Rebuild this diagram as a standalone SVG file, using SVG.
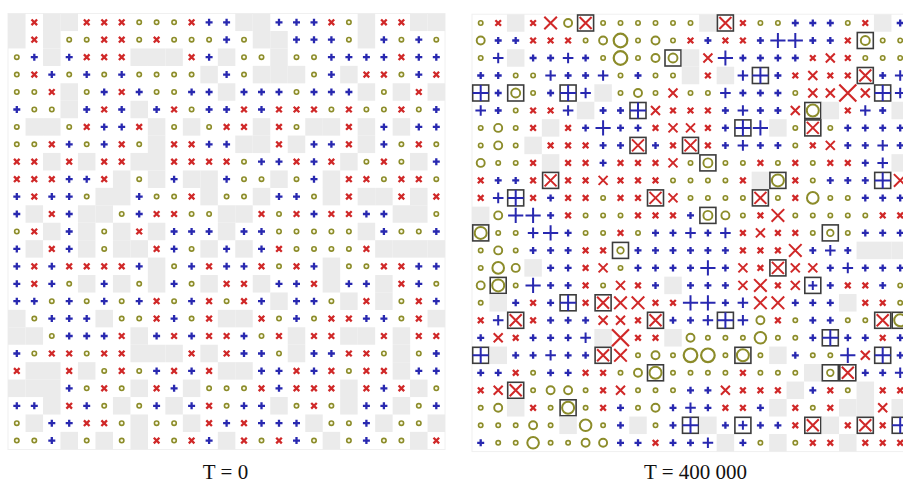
<svg xmlns="http://www.w3.org/2000/svg" width="903" height="484" viewBox="0 0 903 484">
<style>
.r{stroke:#d02828;fill:none}
.b{stroke:#2828b0;fill:none}
.ol{stroke:#8c8c2a}
.bx{stroke:#3c3c3c;fill:none;stroke-width:1.6}
text{font-family:"Liberation Serif","Times New Roman",serif;font-size:21px;fill:#111}
</style>
<defs>
<rect id="g" x="-8.75" y="-8.75" width="17.5" height="17.5" fill="#ebebeb"/>
<path id="x" class="r" stroke-width="2.3" d="M-2.8-2.8L2.8 2.8M2.8-2.8L-2.8 2.8"/>
<path id="x2" class="r" stroke-width="2" d="M-4.5-4.5L4.5 4.5M4.5-4.5L-4.5 4.5"/>
<path id="x3" class="r" stroke-width="2" d="M-6.3-6.3L6.3 6.3M6.3-6.3L-6.3 6.3"/>
<path id="x4" class="r" stroke-width="2.2" d="M-8.5-8.5L8.5 8.5M8.5-8.5L-8.5 8.5"/>
<path id="p" class="b" stroke-width="2.3" d="M-3.5 0H3.5M0-3.5V3.5"/>
<path id="p2" class="b" stroke-width="2" d="M-5.3 0H5.3M0-5.3V5.3"/>
<path id="p3" class="b" stroke-width="2" d="M-7.6 0H7.6M0-7.6V7.6"/>
<circle id="o" class="ol" r="2.2" stroke-width="1.6" fill="#fafae4"/>
<circle id="o2" class="ol" r="4" stroke-width="1.9" fill="none"/>
<circle id="o3" class="ol" r="5.8" stroke-width="2" fill="none"/>
<circle id="o4" class="ol" r="6.8" stroke-width="2.2" fill="none"/>
<rect id="bq" class="bx" x="-8" y="-8" width="16" height="16"/>
<g id="BX"><use href="#bq"/><path class="r" stroke-width="2" d="M-6-6L6 6M6-6L-6 6"/></g>
<g id="BP"><use href="#bq"/><path class="b" stroke-width="2" d="M-8 0H8M0-8V8"/></g>
<g id="BPs"><use href="#bq"/><path class="b" stroke-width="2" d="M-4.5 0H4.5M0-4.5V4.5"/></g>
<g id="BO"><use href="#bq"/><circle class="ol" r="6" stroke-width="2" fill="none"/></g>
<g id="BOm"><use href="#bq"/><circle class="ol" r="4.5" stroke-width="1.9" fill="none"/></g>
<g id="BOs"><use href="#bq"/><circle class="ol" r="3.3" stroke-width="1.7" fill="none"/></g>
</defs>
<rect width="903" height="484" fill="#fff"/>
<rect x="8" y="13.5" width="437" height="436" fill="none" stroke="#f0f0f0"/>
<rect x="472" y="14.2" width="440" height="437.4" fill="none" stroke="#f0f0f0"/>
<g id="left-grid">
<g transform="translate(0,22.3)"><use href="#g" x="16.8"/><use href="#x" x="34.3"/><use href="#g" x="51.8"/><use href="#g" x="69.2"/><use href="#x" x="86.7"/><use href="#x" x="104.2"/><use href="#x" x="121.7"/><use href="#o" x="139.2"/><use href="#o" x="156.6"/><use href="#o" x="174.1"/><use href="#x" x="191.6"/><use href="#p" x="209.1"/><use href="#p" x="226.6"/><use href="#g" x="244"/><use href="#g" x="261.5"/><use href="#p" x="279"/><use href="#p" x="296.5"/><use href="#p" x="314"/><use href="#x" x="331.4"/><use href="#o" x="348.9"/><use href="#g" x="366.4"/><use href="#x" x="383.9"/><use href="#x" x="401.4"/><use href="#g" x="418.8"/><use href="#g" x="436.3"/></g>
<g transform="translate(0,39.7)"><use href="#g" x="16.8"/><use href="#x" x="34.3"/><use href="#g" x="51.8"/><use href="#o" x="69.2"/><use href="#o" x="86.7"/><use href="#x" x="104.2"/><use href="#x" x="121.7"/><use href="#o" x="139.2"/><use href="#x" x="156.6"/><use href="#o" x="174.1"/><use href="#o" x="191.6"/><use href="#o" x="209.1"/><use href="#p" x="226.6"/><use href="#o" x="244"/><use href="#g" x="261.5"/><use href="#g" x="279"/><use href="#p" x="296.5"/><use href="#p" x="314"/><use href="#p" x="331.4"/><use href="#o" x="348.9"/><use href="#g" x="366.4"/><use href="#p" x="383.9"/><use href="#o" x="401.4"/><use href="#p" x="418.8"/><use href="#o" x="436.3"/></g>
<g transform="translate(0,57.2)"><use href="#o" x="16.8"/><use href="#p" x="34.3"/><use href="#g" x="51.8"/><use href="#p" x="69.2"/><use href="#x" x="86.7"/><use href="#x" x="104.2"/><use href="#x" x="121.7"/><use href="#g" x="139.2"/><use href="#g" x="156.6"/><use href="#g" x="174.1"/><use href="#x" x="191.6"/><use href="#p" x="209.1"/><use href="#g" x="226.6"/><use href="#o" x="244"/><use href="#o" x="261.5"/><use href="#g" x="279"/><use href="#o" x="296.5"/><use href="#o" x="314"/><use href="#p" x="331.4"/><use href="#p" x="348.9"/><use href="#p" x="366.4"/><use href="#p" x="383.9"/><use href="#x" x="401.4"/><use href="#p" x="418.8"/><use href="#p" x="436.3"/></g>
<g transform="translate(0,74.6)"><use href="#o" x="16.8"/><use href="#x" x="34.3"/><use href="#p" x="51.8"/><use href="#o" x="69.2"/><use href="#p" x="86.7"/><use href="#o" x="104.2"/><use href="#p" x="121.7"/><use href="#o" x="139.2"/><use href="#o" x="156.6"/><use href="#o" x="174.1"/><use href="#o" x="191.6"/><use href="#g" x="209.1"/><use href="#p" x="226.6"/><use href="#o" x="244"/><use href="#g" x="261.5"/><use href="#g" x="279"/><use href="#g" x="296.5"/><use href="#o" x="314"/><use href="#p" x="331.4"/><use href="#g" x="348.9"/><use href="#x" x="366.4"/><use href="#x" x="383.9"/><use href="#o" x="401.4"/><use href="#p" x="418.8"/><use href="#x" x="436.3"/></g>
<g transform="translate(0,92)"><use href="#o" x="16.8"/><use href="#o" x="34.3"/><use href="#x" x="51.8"/><use href="#g" x="69.2"/><use href="#o" x="86.7"/><use href="#p" x="104.2"/><use href="#x" x="121.7"/><use href="#p" x="139.2"/><use href="#o" x="156.6"/><use href="#o" x="174.1"/><use href="#p" x="191.6"/><use href="#p" x="209.1"/><use href="#g" x="226.6"/><use href="#p" x="244"/><use href="#p" x="261.5"/><use href="#p" x="279"/><use href="#o" x="296.5"/><use href="#p" x="314"/><use href="#p" x="331.4"/><use href="#p" x="348.9"/><use href="#g" x="366.4"/><use href="#o" x="383.9"/><use href="#g" x="401.4"/><use href="#x" x="418.8"/><use href="#g" x="436.3"/></g>
<g transform="translate(0,109.5)"><use href="#p" x="16.8"/><use href="#o" x="34.3"/><use href="#o" x="51.8"/><use href="#g" x="69.2"/><use href="#p" x="86.7"/><use href="#x" x="104.2"/><use href="#p" x="121.7"/><use href="#g" x="139.2"/><use href="#p" x="156.6"/><use href="#x" x="174.1"/><use href="#o" x="191.6"/><use href="#p" x="209.1"/><use href="#p" x="226.6"/><use href="#x" x="244"/><use href="#p" x="261.5"/><use href="#x" x="279"/><use href="#x" x="296.5"/><use href="#x" x="314"/><use href="#o" x="331.4"/><use href="#x" x="348.9"/><use href="#o" x="366.4"/><use href="#o" x="383.9"/><use href="#x" x="401.4"/><use href="#o" x="418.8"/><use href="#p" x="436.3"/></g>
<g transform="translate(0,126.9)"><use href="#o" x="16.8"/><use href="#g" x="34.3"/><use href="#g" x="51.8"/><use href="#o" x="69.2"/><use href="#x" x="86.7"/><use href="#p" x="104.2"/><use href="#p" x="121.7"/><use href="#x" x="139.2"/><use href="#g" x="156.6"/><use href="#o" x="174.1"/><use href="#g" x="191.6"/><use href="#o" x="209.1"/><use href="#x" x="226.6"/><use href="#x" x="244"/><use href="#g" x="261.5"/><use href="#x" x="279"/><use href="#o" x="296.5"/><use href="#g" x="314"/><use href="#g" x="331.4"/><use href="#x" x="348.9"/><use href="#g" x="366.4"/><use href="#p" x="383.9"/><use href="#g" x="401.4"/><use href="#p" x="418.8"/><use href="#p" x="436.3"/></g>
<g transform="translate(0,144.3)"><use href="#o" x="16.8"/><use href="#o" x="34.3"/><use href="#x" x="51.8"/><use href="#p" x="69.2"/><use href="#o" x="86.7"/><use href="#p" x="104.2"/><use href="#x" x="121.7"/><use href="#o" x="139.2"/><use href="#g" x="156.6"/><use href="#x" x="174.1"/><use href="#x" x="191.6"/><use href="#p" x="209.1"/><use href="#p" x="226.6"/><use href="#g" x="244"/><use href="#g" x="261.5"/><use href="#x" x="279"/><use href="#g" x="296.5"/><use href="#p" x="314"/><use href="#p" x="331.4"/><use href="#x" x="348.9"/><use href="#g" x="366.4"/><use href="#p" x="383.9"/><use href="#o" x="401.4"/><use href="#x" x="418.8"/><use href="#o" x="436.3"/></g>
<g transform="translate(0,161.7)"><use href="#x" x="16.8"/><use href="#x" x="34.3"/><use href="#g" x="51.8"/><use href="#x" x="69.2"/><use href="#g" x="86.7"/><use href="#x" x="104.2"/><use href="#x" x="121.7"/><use href="#g" x="139.2"/><use href="#g" x="156.6"/><use href="#x" x="174.1"/><use href="#x" x="191.6"/><use href="#x" x="209.1"/><use href="#x" x="226.6"/><use href="#o" x="244"/><use href="#p" x="261.5"/><use href="#p" x="279"/><use href="#x" x="296.5"/><use href="#p" x="314"/><use href="#x" x="331.4"/><use href="#g" x="348.9"/><use href="#o" x="366.4"/><use href="#x" x="383.9"/><use href="#o" x="401.4"/><use href="#g" x="418.8"/><use href="#p" x="436.3"/></g>
<g transform="translate(0,179.2)"><use href="#x" x="16.8"/><use href="#x" x="34.3"/><use href="#x" x="51.8"/><use href="#p" x="69.2"/><use href="#p" x="86.7"/><use href="#x" x="104.2"/><use href="#g" x="121.7"/><use href="#o" x="139.2"/><use href="#g" x="156.6"/><use href="#p" x="174.1"/><use href="#g" x="191.6"/><use href="#g" x="209.1"/><use href="#p" x="226.6"/><use href="#o" x="244"/><use href="#o" x="261.5"/><use href="#g" x="279"/><use href="#o" x="296.5"/><use href="#p" x="314"/><use href="#g" x="331.4"/><use href="#x" x="348.9"/><use href="#x" x="366.4"/><use href="#o" x="383.9"/><use href="#x" x="401.4"/><use href="#x" x="418.8"/><use href="#o" x="436.3"/></g>
<g transform="translate(0,196.6)"><use href="#p" x="16.8"/><use href="#x" x="34.3"/><use href="#p" x="51.8"/><use href="#p" x="69.2"/><use href="#o" x="86.7"/><use href="#g" x="104.2"/><use href="#g" x="121.7"/><use href="#p" x="139.2"/><use href="#o" x="156.6"/><use href="#o" x="174.1"/><use href="#x" x="191.6"/><use href="#g" x="209.1"/><use href="#o" x="226.6"/><use href="#o" x="244"/><use href="#g" x="261.5"/><use href="#p" x="279"/><use href="#p" x="296.5"/><use href="#o" x="314"/><use href="#g" x="331.4"/><use href="#x" x="348.9"/><use href="#g" x="366.4"/><use href="#g" x="383.9"/><use href="#x" x="401.4"/><use href="#g" x="418.8"/><use href="#x" x="436.3"/></g>
<g transform="translate(0,214)"><use href="#p" x="16.8"/><use href="#g" x="34.3"/><use href="#x" x="51.8"/><use href="#p" x="69.2"/><use href="#g" x="86.7"/><use href="#g" x="104.2"/><use href="#o" x="121.7"/><use href="#p" x="139.2"/><use href="#x" x="156.6"/><use href="#x" x="174.1"/><use href="#o" x="191.6"/><use href="#o" x="209.1"/><use href="#g" x="226.6"/><use href="#g" x="244"/><use href="#x" x="261.5"/><use href="#o" x="279"/><use href="#x" x="296.5"/><use href="#p" x="314"/><use href="#x" x="331.4"/><use href="#x" x="348.9"/><use href="#p" x="366.4"/><use href="#p" x="383.9"/><use href="#g" x="401.4"/><use href="#g" x="418.8"/><use href="#o" x="436.3"/></g>
<g transform="translate(0,231.5)"><use href="#o" x="16.8"/><use href="#x" x="34.3"/><use href="#g" x="51.8"/><use href="#p" x="69.2"/><use href="#g" x="86.7"/><use href="#o" x="104.2"/><use href="#g" x="121.7"/><use href="#x" x="139.2"/><use href="#g" x="156.6"/><use href="#p" x="174.1"/><use href="#p" x="191.6"/><use href="#p" x="209.1"/><use href="#g" x="226.6"/><use href="#p" x="244"/><use href="#p" x="261.5"/><use href="#o" x="279"/><use href="#o" x="296.5"/><use href="#o" x="314"/><use href="#o" x="331.4"/><use href="#o" x="348.9"/><use href="#g" x="366.4"/><use href="#p" x="383.9"/><use href="#o" x="401.4"/><use href="#o" x="418.8"/><use href="#p" x="436.3"/></g>
<g transform="translate(0,248.9)"><use href="#p" x="16.8"/><use href="#g" x="34.3"/><use href="#x" x="51.8"/><use href="#p" x="69.2"/><use href="#g" x="86.7"/><use href="#o" x="104.2"/><use href="#g" x="121.7"/><use href="#g" x="139.2"/><use href="#x" x="156.6"/><use href="#p" x="174.1"/><use href="#o" x="191.6"/><use href="#g" x="209.1"/><use href="#p" x="226.6"/><use href="#g" x="244"/><use href="#p" x="261.5"/><use href="#x" x="279"/><use href="#o" x="296.5"/><use href="#o" x="314"/><use href="#o" x="331.4"/><use href="#o" x="348.9"/><use href="#x" x="366.4"/><use href="#g" x="383.9"/><use href="#g" x="401.4"/><use href="#g" x="418.8"/><use href="#g" x="436.3"/></g>
<g transform="translate(0,266.3)"><use href="#p" x="16.8"/><use href="#x" x="34.3"/><use href="#p" x="51.8"/><use href="#x" x="69.2"/><use href="#x" x="86.7"/><use href="#x" x="104.2"/><use href="#x" x="121.7"/><use href="#p" x="139.2"/><use href="#g" x="156.6"/><use href="#o" x="174.1"/><use href="#p" x="191.6"/><use href="#x" x="209.1"/><use href="#p" x="226.6"/><use href="#p" x="244"/><use href="#x" x="261.5"/><use href="#o" x="279"/><use href="#x" x="296.5"/><use href="#p" x="314"/><use href="#g" x="331.4"/><use href="#o" x="348.9"/><use href="#o" x="366.4"/><use href="#x" x="383.9"/><use href="#x" x="401.4"/><use href="#p" x="418.8"/><use href="#p" x="436.3"/></g>
<g transform="translate(0,283.8)"><use href="#p" x="16.8"/><use href="#x" x="34.3"/><use href="#p" x="51.8"/><use href="#o" x="69.2"/><use href="#g" x="86.7"/><use href="#p" x="104.2"/><use href="#g" x="121.7"/><use href="#o" x="139.2"/><use href="#g" x="156.6"/><use href="#p" x="174.1"/><use href="#o" x="191.6"/><use href="#g" x="209.1"/><use href="#x" x="226.6"/><use href="#x" x="244"/><use href="#g" x="261.5"/><use href="#p" x="279"/><use href="#p" x="296.5"/><use href="#x" x="314"/><use href="#g" x="331.4"/><use href="#p" x="348.9"/><use href="#p" x="366.4"/><use href="#g" x="383.9"/><use href="#x" x="401.4"/><use href="#p" x="418.8"/><use href="#o" x="436.3"/></g>
<g transform="translate(0,301.2)"><use href="#p" x="16.8"/><use href="#p" x="34.3"/><use href="#o" x="51.8"/><use href="#p" x="69.2"/><use href="#o" x="86.7"/><use href="#p" x="104.2"/><use href="#o" x="121.7"/><use href="#p" x="139.2"/><use href="#x" x="156.6"/><use href="#o" x="174.1"/><use href="#p" x="191.6"/><use href="#x" x="209.1"/><use href="#o" x="226.6"/><use href="#x" x="244"/><use href="#p" x="261.5"/><use href="#g" x="279"/><use href="#p" x="296.5"/><use href="#p" x="314"/><use href="#o" x="331.4"/><use href="#g" x="348.9"/><use href="#x" x="366.4"/><use href="#g" x="383.9"/><use href="#o" x="401.4"/><use href="#x" x="418.8"/><use href="#p" x="436.3"/></g>
<g transform="translate(0,318.6)"><use href="#g" x="16.8"/><use href="#o" x="34.3"/><use href="#p" x="51.8"/><use href="#p" x="69.2"/><use href="#p" x="86.7"/><use href="#g" x="104.2"/><use href="#o" x="121.7"/><use href="#o" x="139.2"/><use href="#x" x="156.6"/><use href="#p" x="174.1"/><use href="#o" x="191.6"/><use href="#x" x="209.1"/><use href="#g" x="226.6"/><use href="#g" x="244"/><use href="#x" x="261.5"/><use href="#o" x="279"/><use href="#p" x="296.5"/><use href="#o" x="314"/><use href="#x" x="331.4"/><use href="#x" x="348.9"/><use href="#p" x="366.4"/><use href="#p" x="383.9"/><use href="#o" x="401.4"/><use href="#x" x="418.8"/><use href="#g" x="436.3"/></g>
<g transform="translate(0,336)"><use href="#g" x="16.8"/><use href="#g" x="34.3"/><use href="#o" x="51.8"/><use href="#p" x="69.2"/><use href="#p" x="86.7"/><use href="#p" x="104.2"/><use href="#x" x="121.7"/><use href="#g" x="139.2"/><use href="#p" x="156.6"/><use href="#x" x="174.1"/><use href="#p" x="191.6"/><use href="#x" x="209.1"/><use href="#x" x="226.6"/><use href="#p" x="244"/><use href="#o" x="261.5"/><use href="#x" x="279"/><use href="#g" x="296.5"/><use href="#x" x="314"/><use href="#x" x="331.4"/><use href="#g" x="348.9"/><use href="#g" x="366.4"/><use href="#x" x="383.9"/><use href="#g" x="401.4"/><use href="#x" x="418.8"/><use href="#x" x="436.3"/></g>
<g transform="translate(0,353.5)"><use href="#p" x="16.8"/><use href="#o" x="34.3"/><use href="#x" x="51.8"/><use href="#x" x="69.2"/><use href="#o" x="86.7"/><use href="#x" x="104.2"/><use href="#x" x="121.7"/><use href="#g" x="139.2"/><use href="#g" x="156.6"/><use href="#g" x="174.1"/><use href="#x" x="191.6"/><use href="#g" x="209.1"/><use href="#x" x="226.6"/><use href="#p" x="244"/><use href="#p" x="261.5"/><use href="#o" x="279"/><use href="#g" x="296.5"/><use href="#p" x="314"/><use href="#p" x="331.4"/><use href="#x" x="348.9"/><use href="#x" x="366.4"/><use href="#o" x="383.9"/><use href="#g" x="401.4"/><use href="#o" x="418.8"/><use href="#p" x="436.3"/></g>
<g transform="translate(0,370.9)"><use href="#x" x="16.8"/><use href="#g" x="34.3"/><use href="#g" x="51.8"/><use href="#x" x="69.2"/><use href="#g" x="86.7"/><use href="#o" x="104.2"/><use href="#x" x="121.7"/><use href="#o" x="139.2"/><use href="#p" x="156.6"/><use href="#x" x="174.1"/><use href="#p" x="191.6"/><use href="#x" x="209.1"/><use href="#g" x="226.6"/><use href="#g" x="244"/><use href="#p" x="261.5"/><use href="#p" x="279"/><use href="#x" x="296.5"/><use href="#p" x="314"/><use href="#x" x="331.4"/><use href="#o" x="348.9"/><use href="#x" x="366.4"/><use href="#x" x="383.9"/><use href="#g" x="401.4"/><use href="#p" x="418.8"/><use href="#p" x="436.3"/></g>
<g transform="translate(0,388.3)"><use href="#g" x="16.8"/><use href="#g" x="34.3"/><use href="#g" x="51.8"/><use href="#p" x="69.2"/><use href="#o" x="86.7"/><use href="#x" x="104.2"/><use href="#o" x="121.7"/><use href="#g" x="139.2"/><use href="#x" x="156.6"/><use href="#p" x="174.1"/><use href="#g" x="191.6"/><use href="#o" x="209.1"/><use href="#o" x="226.6"/><use href="#o" x="244"/><use href="#x" x="261.5"/><use href="#p" x="279"/><use href="#x" x="296.5"/><use href="#x" x="314"/><use href="#x" x="331.4"/><use href="#g" x="348.9"/><use href="#x" x="366.4"/><use href="#p" x="383.9"/><use href="#x" x="401.4"/><use href="#g" x="418.8"/><use href="#o" x="436.3"/></g>
<g transform="translate(0,405.8)"><use href="#p" x="16.8"/><use href="#p" x="34.3"/><use href="#g" x="51.8"/><use href="#x" x="69.2"/><use href="#p" x="86.7"/><use href="#o" x="104.2"/><use href="#g" x="121.7"/><use href="#o" x="139.2"/><use href="#p" x="156.6"/><use href="#g" x="174.1"/><use href="#p" x="191.6"/><use href="#x" x="209.1"/><use href="#o" x="226.6"/><use href="#p" x="244"/><use href="#p" x="261.5"/><use href="#g" x="279"/><use href="#o" x="296.5"/><use href="#x" x="314"/><use href="#o" x="331.4"/><use href="#g" x="348.9"/><use href="#p" x="366.4"/><use href="#p" x="383.9"/><use href="#g" x="401.4"/><use href="#o" x="418.8"/><use href="#p" x="436.3"/></g>
<g transform="translate(0,423.2)"><use href="#o" x="16.8"/><use href="#g" x="34.3"/><use href="#p" x="51.8"/><use href="#p" x="69.2"/><use href="#x" x="86.7"/><use href="#x" x="104.2"/><use href="#o" x="121.7"/><use href="#g" x="139.2"/><use href="#o" x="156.6"/><use href="#o" x="174.1"/><use href="#g" x="191.6"/><use href="#x" x="209.1"/><use href="#p" x="226.6"/><use href="#x" x="244"/><use href="#p" x="261.5"/><use href="#p" x="279"/><use href="#p" x="296.5"/><use href="#g" x="314"/><use href="#o" x="331.4"/><use href="#o" x="348.9"/><use href="#p" x="366.4"/><use href="#g" x="383.9"/><use href="#o" x="401.4"/><use href="#o" x="418.8"/><use href="#g" x="436.3"/></g>
<g transform="translate(0,440.6)"><use href="#o" x="16.8"/><use href="#o" x="34.3"/><use href="#p" x="51.8"/><use href="#g" x="69.2"/><use href="#o" x="86.7"/><use href="#g" x="104.2"/><use href="#o" x="121.7"/><use href="#g" x="139.2"/><use href="#x" x="156.6"/><use href="#o" x="174.1"/><use href="#x" x="191.6"/><use href="#p" x="209.1"/><use href="#g" x="226.6"/><use href="#x" x="244"/><use href="#o" x="261.5"/><use href="#x" x="279"/><use href="#p" x="296.5"/><use href="#o" x="314"/><use href="#g" x="331.4"/><use href="#o" x="348.9"/><use href="#p" x="366.4"/><use href="#o" x="383.9"/><use href="#o" x="401.4"/><use href="#g" x="418.8"/><use href="#x" x="436.3"/></g>
</g>
<g id="right-grid" transform="translate(463.9,0)">
<g transform="translate(0,23)"><use href="#o" x="16.8"/><use href="#x" x="34.3"/><use href="#g" x="51.8"/><use href="#x" x="69.2"/><use href="#x3" x="86.7"/><use href="#o2" x="104.2"/><use href="#BX" x="121.7"/><use href="#o" x="139.2"/><use href="#o" x="156.6"/><use href="#o" x="174.1"/><use href="#o" x="191.6"/><use href="#o" x="209.1"/><use href="#o" x="226.6"/><use href="#g" x="244"/><use href="#BX" x="261.5"/><use href="#x" x="279"/><use href="#o" x="296.5"/><use href="#o" x="314"/><use href="#p" x="331.4"/><use href="#p" x="348.9"/><use href="#p" x="366.4"/><use href="#o" x="383.9"/><use href="#x" x="401.4"/><use href="#g" x="418.8"/><use href="#p" x="436.3"/></g>
<g transform="translate(0,40.5)"><use href="#o2" x="16.8"/><use href="#p" x="34.3"/><use href="#p" x="51.8"/><use href="#x" x="69.2"/><use href="#x" x="86.7"/><use href="#x" x="104.2"/><use href="#o" x="121.7"/><use href="#o2" x="139.2"/><use href="#o4" x="156.6"/><use href="#o" x="174.1"/><use href="#o2" x="191.6"/><use href="#o" x="209.1"/><use href="#x" x="226.6"/><use href="#p" x="244"/><use href="#x" x="261.5"/><use href="#x" x="279"/><use href="#p" x="296.5"/><use href="#p3" x="314"/><use href="#p3" x="331.4"/><use href="#p" x="348.9"/><use href="#p" x="366.4"/><use href="#x" x="383.9"/><use href="#BOm" x="401.4"/><use href="#o" x="418.8"/><use href="#o" x="436.3"/></g>
<g transform="translate(0,58)"><use href="#o" x="16.8"/><use href="#p2" x="34.3"/><use href="#g" x="51.8"/><use href="#p" x="69.2"/><use href="#p" x="86.7"/><use href="#p2" x="104.2"/><use href="#p" x="121.7"/><use href="#o" x="139.2"/><use href="#o4" x="156.6"/><use href="#o" x="174.1"/><use href="#o2" x="191.6"/><use href="#BOm" x="209.1"/><use href="#g" x="226.6"/><use href="#x2" x="244"/><use href="#p3" x="261.5"/><use href="#p" x="279"/><use href="#p" x="296.5"/><use href="#p" x="314"/><use href="#p" x="331.4"/><use href="#x" x="348.9"/><use href="#x2" x="366.4"/><use href="#x" x="383.9"/><use href="#o" x="401.4"/><use href="#o" x="418.8"/><use href="#o" x="436.3"/></g>
<g transform="translate(0,75.5)"><use href="#p" x="16.8"/><use href="#p" x="34.3"/><use href="#o" x="51.8"/><use href="#o" x="69.2"/><use href="#p2" x="86.7"/><use href="#p" x="104.2"/><use href="#p" x="121.7"/><use href="#p2" x="139.2"/><use href="#o" x="156.6"/><use href="#p" x="174.1"/><use href="#o" x="191.6"/><use href="#o" x="209.1"/><use href="#g" x="226.6"/><use href="#x" x="244"/><use href="#g" x="261.5"/><use href="#p2" x="279"/><use href="#BP" x="296.5"/><use href="#p" x="314"/><use href="#x" x="331.4"/><use href="#x2" x="348.9"/><use href="#x" x="366.4"/><use href="#x" x="383.9"/><use href="#BX" x="401.4"/><use href="#p" x="418.8"/><use href="#p2" x="436.3"/></g>
<g transform="translate(0,93)"><use href="#BP" x="16.8"/><use href="#p" x="34.3"/><use href="#BOm" x="51.8"/><use href="#o" x="69.2"/><use href="#p" x="86.7"/><use href="#BP" x="104.2"/><use href="#p2" x="121.7"/><use href="#g" x="139.2"/><use href="#o" x="156.6"/><use href="#o2" x="174.1"/><use href="#o" x="191.6"/><use href="#x2" x="209.1"/><use href="#o" x="226.6"/><use href="#o" x="244"/><use href="#p2" x="261.5"/><use href="#p" x="279"/><use href="#p" x="296.5"/><use href="#p" x="314"/><use href="#o" x="331.4"/><use href="#x2" x="348.9"/><use href="#x2" x="366.4"/><use href="#x4" x="383.9"/><use href="#x2" x="401.4"/><use href="#BP" x="418.8"/><use href="#p2" x="436.3"/></g>
<g transform="translate(0,110.5)"><use href="#p2" x="16.8"/><use href="#p" x="34.3"/><use href="#o" x="51.8"/><use href="#x" x="69.2"/><use href="#x" x="86.7"/><use href="#p2" x="104.2"/><use href="#g" x="121.7"/><use href="#p" x="139.2"/><use href="#p" x="156.6"/><use href="#BP" x="174.1"/><use href="#x2" x="191.6"/><use href="#x" x="209.1"/><use href="#x" x="226.6"/><use href="#x" x="244"/><use href="#p" x="261.5"/><use href="#p2" x="279"/><use href="#p" x="296.5"/><use href="#p" x="314"/><use href="#x2" x="331.4"/><use href="#BO" x="348.9"/><use href="#g" x="366.4"/><use href="#x" x="383.9"/><use href="#p2" x="401.4"/><use href="#p" x="418.8"/><use href="#g" x="436.3"/></g>
<g transform="translate(0,127.9)"><use href="#o" x="16.8"/><use href="#o2" x="34.3"/><use href="#o" x="51.8"/><use href="#x" x="69.2"/><use href="#g" x="86.7"/><use href="#x" x="104.2"/><use href="#p" x="121.7"/><use href="#p3" x="139.2"/><use href="#p" x="156.6"/><use href="#p" x="174.1"/><use href="#x" x="191.6"/><use href="#x2" x="209.1"/><use href="#x2" x="226.6"/><use href="#x" x="244"/><use href="#p" x="261.5"/><use href="#BP" x="279"/><use href="#p3" x="296.5"/><use href="#g" x="314"/><use href="#o" x="331.4"/><use href="#BX" x="348.9"/><use href="#o" x="366.4"/><use href="#p" x="383.9"/><use href="#p" x="401.4"/><use href="#p" x="418.8"/><use href="#p" x="436.3"/></g>
<g transform="translate(0,145.4)"><use href="#o" x="16.8"/><use href="#o2" x="34.3"/><use href="#o" x="51.8"/><use href="#g" x="69.2"/><use href="#x" x="86.7"/><use href="#x" x="104.2"/><use href="#x" x="121.7"/><use href="#p" x="139.2"/><use href="#p" x="156.6"/><use href="#BX" x="174.1"/><use href="#p" x="191.6"/><use href="#x" x="209.1"/><use href="#BX" x="226.6"/><use href="#x" x="244"/><use href="#p" x="261.5"/><use href="#p2" x="279"/><use href="#p" x="296.5"/><use href="#p" x="314"/><use href="#o" x="331.4"/><use href="#x" x="348.9"/><use href="#x2" x="366.4"/><use href="#p" x="383.9"/><use href="#p" x="401.4"/><use href="#p2" x="418.8"/><use href="#p" x="436.3"/></g>
<g transform="translate(0,162.9)"><use href="#o2" x="16.8"/><use href="#o" x="34.3"/><use href="#o" x="51.8"/><use href="#x" x="69.2"/><use href="#g" x="86.7"/><use href="#x" x="104.2"/><use href="#x" x="121.7"/><use href="#p" x="139.2"/><use href="#x" x="156.6"/><use href="#x" x="174.1"/><use href="#x" x="191.6"/><use href="#x2" x="209.1"/><use href="#o" x="226.6"/><use href="#BOm" x="244"/><use href="#o" x="261.5"/><use href="#o" x="279"/><use href="#x" x="296.5"/><use href="#o" x="314"/><use href="#x" x="331.4"/><use href="#o" x="348.9"/><use href="#x" x="366.4"/><use href="#x" x="383.9"/><use href="#p" x="401.4"/><use href="#p2" x="418.8"/><use href="#g" x="436.3"/></g>
<g transform="translate(0,180.4)"><use href="#x" x="16.8"/><use href="#p" x="34.3"/><use href="#p" x="51.8"/><use href="#x" x="69.2"/><use href="#BX" x="86.7"/><use href="#x" x="104.2"/><use href="#x" x="121.7"/><use href="#x2" x="139.2"/><use href="#x" x="156.6"/><use href="#x" x="174.1"/><use href="#x" x="191.6"/><use href="#o" x="209.1"/><use href="#o" x="226.6"/><use href="#o" x="244"/><use href="#o" x="261.5"/><use href="#x" x="279"/><use href="#g" x="296.5"/><use href="#BO" x="314"/><use href="#x" x="331.4"/><use href="#o" x="348.9"/><use href="#p" x="366.4"/><use href="#p" x="383.9"/><use href="#p" x="401.4"/><use href="#BP" x="418.8"/><use href="#x3" x="436.3"/></g>
<g transform="translate(0,197.9)"><use href="#x" x="16.8"/><use href="#p2" x="34.3"/><use href="#BP" x="51.8"/><use href="#x" x="69.2"/><use href="#p" x="86.7"/><use href="#x" x="104.2"/><use href="#x" x="121.7"/><use href="#o" x="139.2"/><use href="#x" x="156.6"/><use href="#x" x="174.1"/><use href="#BX" x="191.6"/><use href="#x2" x="209.1"/><use href="#o" x="226.6"/><use href="#o" x="244"/><use href="#o" x="261.5"/><use href="#o" x="279"/><use href="#BX" x="296.5"/><use href="#o" x="314"/><use href="#x" x="331.4"/><use href="#o3" x="348.9"/><use href="#o" x="366.4"/><use href="#o" x="383.9"/><use href="#p" x="401.4"/><use href="#p" x="418.8"/><use href="#p" x="436.3"/></g>
<g transform="translate(0,215.4)"><use href="#g" x="16.8"/><use href="#o2" x="34.3"/><use href="#p3" x="51.8"/><use href="#p3" x="69.2"/><use href="#p" x="86.7"/><use href="#x" x="104.2"/><use href="#o" x="121.7"/><use href="#o" x="139.2"/><use href="#o" x="156.6"/><use href="#x" x="174.1"/><use href="#x" x="191.6"/><use href="#x" x="209.1"/><use href="#p" x="226.6"/><use href="#BOm" x="244"/><use href="#o2" x="261.5"/><use href="#o" x="279"/><use href="#x" x="296.5"/><use href="#x3" x="314"/><use href="#o" x="331.4"/><use href="#o" x="348.9"/><use href="#o" x="366.4"/><use href="#o" x="383.9"/><use href="#o" x="401.4"/><use href="#x" x="418.8"/><use href="#x" x="436.3"/></g>
<g transform="translate(0,232.9)"><use href="#BO" x="16.8"/><use href="#o" x="34.3"/><use href="#o" x="51.8"/><use href="#p2" x="69.2"/><use href="#p3" x="86.7"/><use href="#p" x="104.2"/><use href="#o" x="121.7"/><use href="#o" x="139.2"/><use href="#x" x="156.6"/><use href="#o" x="174.1"/><use href="#p" x="191.6"/><use href="#p" x="209.1"/><use href="#p2" x="226.6"/><use href="#p" x="244"/><use href="#p2" x="261.5"/><use href="#x" x="279"/><use href="#x2" x="296.5"/><use href="#x" x="314"/><use href="#x" x="331.4"/><use href="#o" x="348.9"/><use href="#BOs" x="366.4"/><use href="#o" x="383.9"/><use href="#p" x="401.4"/><use href="#p" x="418.8"/><use href="#p" x="436.3"/></g>
<g transform="translate(0,250.4)"><use href="#o" x="16.8"/><use href="#o2" x="34.3"/><use href="#o" x="51.8"/><use href="#p" x="69.2"/><use href="#p" x="86.7"/><use href="#p" x="104.2"/><use href="#x" x="121.7"/><use href="#x" x="139.2"/><use href="#BOs" x="156.6"/><use href="#p" x="174.1"/><use href="#p" x="191.6"/><use href="#p" x="209.1"/><use href="#p" x="226.6"/><use href="#p" x="244"/><use href="#p" x="261.5"/><use href="#x" x="279"/><use href="#x" x="296.5"/><use href="#x" x="314"/><use href="#x3" x="331.4"/><use href="#p" x="348.9"/><use href="#p2" x="366.4"/><use href="#p" x="383.9"/><use href="#g" x="401.4"/><use href="#g" x="418.8"/><use href="#g" x="436.3"/></g>
<g transform="translate(0,267.9)"><use href="#o" x="16.8"/><use href="#o3" x="34.3"/><use href="#o2" x="51.8"/><use href="#g" x="69.2"/><use href="#p" x="86.7"/><use href="#p" x="104.2"/><use href="#x" x="121.7"/><use href="#x2" x="139.2"/><use href="#o" x="156.6"/><use href="#p" x="174.1"/><use href="#p" x="191.6"/><use href="#p" x="209.1"/><use href="#p" x="226.6"/><use href="#p3" x="244"/><use href="#p" x="261.5"/><use href="#x2" x="279"/><use href="#x" x="296.5"/><use href="#BX" x="314"/><use href="#x2" x="331.4"/><use href="#x2" x="348.9"/><use href="#p" x="366.4"/><use href="#p2" x="383.9"/><use href="#p" x="401.4"/><use href="#p" x="418.8"/><use href="#p" x="436.3"/></g>
<g transform="translate(0,285.4)"><use href="#o2" x="16.8"/><use href="#BO" x="34.3"/><use href="#o" x="51.8"/><use href="#p3" x="69.2"/><use href="#p" x="86.7"/><use href="#p" x="104.2"/><use href="#x" x="121.7"/><use href="#o" x="139.2"/><use href="#x2" x="156.6"/><use href="#x" x="174.1"/><use href="#p" x="191.6"/><use href="#g" x="209.1"/><use href="#p" x="226.6"/><use href="#p" x="244"/><use href="#p" x="261.5"/><use href="#x2" x="279"/><use href="#x3" x="296.5"/><use href="#x" x="314"/><use href="#x2" x="331.4"/><use href="#BPs" x="348.9"/><use href="#p" x="366.4"/><use href="#x" x="383.9"/><use href="#x" x="401.4"/><use href="#p" x="418.8"/><use href="#o" x="436.3"/></g>
<g transform="translate(0,302.8)"><use href="#o" x="16.8"/><use href="#g" x="34.3"/><use href="#p" x="51.8"/><use href="#x" x="69.2"/><use href="#p" x="86.7"/><use href="#BP" x="104.2"/><use href="#x" x="121.7"/><use href="#BX" x="139.2"/><use href="#x3" x="156.6"/><use href="#x3" x="174.1"/><use href="#x" x="191.6"/><use href="#x" x="209.1"/><use href="#p3" x="226.6"/><use href="#p3" x="244"/><use href="#p" x="261.5"/><use href="#p2" x="279"/><use href="#x3" x="296.5"/><use href="#x3" x="314"/><use href="#p" x="331.4"/><use href="#p" x="348.9"/><use href="#p" x="366.4"/><use href="#g" x="383.9"/><use href="#x" x="401.4"/><use href="#x" x="418.8"/><use href="#o" x="436.3"/></g>
<g transform="translate(0,320.3)"><use href="#x" x="16.8"/><use href="#p2" x="34.3"/><use href="#BX" x="51.8"/><use href="#x" x="69.2"/><use href="#p" x="86.7"/><use href="#p" x="104.2"/><use href="#p" x="121.7"/><use href="#x2" x="139.2"/><use href="#x2" x="156.6"/><use href="#x" x="174.1"/><use href="#BX" x="191.6"/><use href="#p" x="209.1"/><use href="#p" x="226.6"/><use href="#p2" x="244"/><use href="#BP" x="261.5"/><use href="#p2" x="279"/><use href="#o2" x="296.5"/><use href="#x" x="314"/><use href="#o" x="331.4"/><use href="#p" x="348.9"/><use href="#p" x="366.4"/><use href="#o" x="383.9"/><use href="#o" x="401.4"/><use href="#BX" x="418.8"/><use href="#BO" x="436.3"/></g>
<g transform="translate(0,337.8)"><use href="#p" x="16.8"/><use href="#x2" x="34.3"/><use href="#x" x="51.8"/><use href="#p" x="69.2"/><use href="#p" x="86.7"/><use href="#p" x="104.2"/><use href="#p2" x="121.7"/><use href="#g" x="139.2"/><use href="#x4" x="156.6"/><use href="#x" x="174.1"/><use href="#x" x="191.6"/><use href="#g" x="209.1"/><use href="#o2" x="226.6"/><use href="#o" x="244"/><use href="#o" x="261.5"/><use href="#o" x="279"/><use href="#o3" x="296.5"/><use href="#o" x="314"/><use href="#o" x="331.4"/><use href="#p" x="348.9"/><use href="#BP" x="366.4"/><use href="#p" x="383.9"/><use href="#p" x="401.4"/><use href="#x" x="418.8"/><use href="#p" x="436.3"/></g>
<g transform="translate(0,355.3)"><use href="#BP" x="16.8"/><use href="#g" x="34.3"/><use href="#p" x="51.8"/><use href="#p" x="69.2"/><use href="#p2" x="86.7"/><use href="#p" x="104.2"/><use href="#p" x="121.7"/><use href="#BX" x="139.2"/><use href="#x3" x="156.6"/><use href="#o" x="174.1"/><use href="#o2" x="191.6"/><use href="#o" x="209.1"/><use href="#o4" x="226.6"/><use href="#o4" x="244"/><use href="#o" x="261.5"/><use href="#BO" x="279"/><use href="#o" x="296.5"/><use href="#g" x="314"/><use href="#p" x="331.4"/><use href="#o" x="348.9"/><use href="#o" x="366.4"/><use href="#p3" x="383.9"/><use href="#x2" x="401.4"/><use href="#BP" x="418.8"/><use href="#p" x="436.3"/></g>
<g transform="translate(0,372.8)"><use href="#p" x="16.8"/><use href="#p" x="34.3"/><use href="#x" x="51.8"/><use href="#o" x="69.2"/><use href="#p" x="86.7"/><use href="#p" x="104.2"/><use href="#x" x="121.7"/><use href="#x" x="139.2"/><use href="#o" x="156.6"/><use href="#o2" x="174.1"/><use href="#BO" x="191.6"/><use href="#o" x="209.1"/><use href="#o" x="226.6"/><use href="#o" x="244"/><use href="#o" x="261.5"/><use href="#x" x="279"/><use href="#o" x="296.5"/><use href="#o" x="314"/><use href="#o" x="331.4"/><use href="#g" x="348.9"/><use href="#BOs" x="366.4"/><use href="#BX" x="383.9"/><use href="#p" x="401.4"/><use href="#p" x="418.8"/><use href="#p2" x="436.3"/></g>
<g transform="translate(0,390.3)"><use href="#x" x="16.8"/><use href="#x2" x="34.3"/><use href="#BX" x="51.8"/><use href="#o" x="69.2"/><use href="#o2" x="86.7"/><use href="#o2" x="104.2"/><use href="#o" x="121.7"/><use href="#x" x="139.2"/><use href="#x2" x="156.6"/><use href="#o" x="174.1"/><use href="#o" x="191.6"/><use href="#o" x="209.1"/><use href="#p" x="226.6"/><use href="#p" x="244"/><use href="#x2" x="261.5"/><use href="#x" x="279"/><use href="#x" x="296.5"/><use href="#x" x="314"/><use href="#g" x="331.4"/><use href="#p" x="348.9"/><use href="#x" x="366.4"/><use href="#o" x="383.9"/><use href="#g" x="401.4"/><use href="#x" x="418.8"/><use href="#x" x="436.3"/></g>
<g transform="translate(0,407.8)"><use href="#o" x="16.8"/><use href="#o2" x="34.3"/><use href="#g" x="51.8"/><use href="#x" x="69.2"/><use href="#o" x="86.7"/><use href="#BO" x="104.2"/><use href="#o" x="121.7"/><use href="#x" x="139.2"/><use href="#p" x="156.6"/><use href="#o" x="174.1"/><use href="#o2" x="191.6"/><use href="#p" x="209.1"/><use href="#p2" x="226.6"/><use href="#p" x="244"/><use href="#x" x="261.5"/><use href="#x" x="279"/><use href="#p" x="296.5"/><use href="#g" x="314"/><use href="#x" x="331.4"/><use href="#o" x="348.9"/><use href="#x" x="366.4"/><use href="#g" x="383.9"/><use href="#g" x="401.4"/><use href="#x2" x="418.8"/><use href="#g" x="436.3"/></g>
<g transform="translate(0,425.3)"><use href="#o" x="16.8"/><use href="#o" x="34.3"/><use href="#o" x="51.8"/><use href="#o2" x="69.2"/><use href="#o" x="86.7"/><use href="#g" x="104.2"/><use href="#o3" x="121.7"/><use href="#o" x="139.2"/><use href="#p" x="156.6"/><use href="#g" x="174.1"/><use href="#o" x="191.6"/><use href="#p" x="209.1"/><use href="#BP" x="226.6"/><use href="#g" x="244"/><use href="#p" x="261.5"/><use href="#BPs" x="279"/><use href="#p" x="296.5"/><use href="#p" x="314"/><use href="#x" x="331.4"/><use href="#BX" x="348.9"/><use href="#g" x="366.4"/><use href="#x" x="383.9"/><use href="#BX" x="401.4"/><use href="#x" x="418.8"/><use href="#BP" x="436.3"/></g>
<g transform="translate(0,442.8)"><use href="#p" x="16.8"/><use href="#o" x="34.3"/><use href="#o" x="51.8"/><use href="#o3" x="69.2"/><use href="#o" x="86.7"/><use href="#o" x="104.2"/><use href="#o2" x="121.7"/><use href="#o2" x="139.2"/><use href="#p" x="156.6"/><use href="#p" x="174.1"/><use href="#x" x="191.6"/><use href="#p" x="209.1"/><use href="#p" x="226.6"/><use href="#p2" x="244"/><use href="#g" x="261.5"/><use href="#p" x="279"/><use href="#o" x="296.5"/><use href="#g" x="314"/><use href="#o" x="331.4"/><use href="#x" x="348.9"/><use href="#x" x="366.4"/><use href="#g" x="383.9"/><use href="#x" x="401.4"/><use href="#x" x="418.8"/><use href="#x" x="436.3"/></g>
</g>
<text x="225.5" y="479" text-anchor="middle">T = 0</text>
<text x="695.5" y="479" text-anchor="middle">T = 400 000</text>
</svg>
